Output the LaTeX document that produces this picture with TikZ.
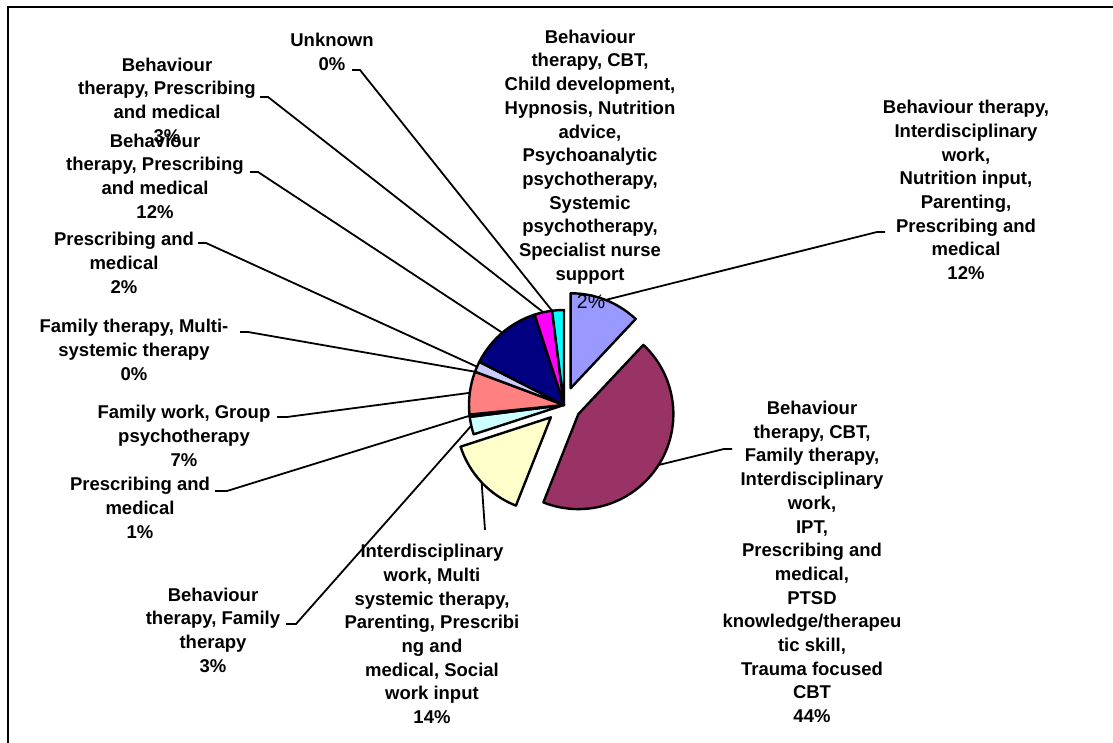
\documentclass[tikz,border=0pt]{standalone}
\usepackage{fontspec}
\setmainfont{Liberation Sans}
\usepackage{xcolor}
\usetikzlibrary{calc}

\definecolor{pielav}{HTML}{9999FF}
\definecolor{piemaroon}{HTML}{993366}
\definecolor{pieyellow}{HTML}{FFFFCC}
\definecolor{pielcyan}{HTML}{CCFFFF}
\definecolor{piepurple}{HTML}{660066}
\definecolor{piesalmon}{HTML}{FF8080}
\definecolor{piepale}{HTML}{CCCCFF}
\definecolor{pienavy}{HTML}{000080}
\definecolor{piemagenta}{HTML}{FF00FF}
\definecolor{piecyan}{HTML}{00FFFF}

\begin{document}
\begin{tikzpicture}[
    x=1pt, y=1pt,
    slice/.style={draw=black, line width=2.4pt, line join=round},
    leader/.style={line width=1.8pt},
    lbl/.style={align=center, inner sep=0pt,
      font=\fontsize{18.5}{23.7}\selectfont\bfseries},
    pct/.style={inner sep=0pt, font=\fontsize{19.5}{22}\selectfont}
]
\useasboundingbox (0,0) rectangle (1113,743);

% Frame
\draw[line width=2pt] (8,0) -- (8,736) -- (1113,736);

% Pie centre and exploded tips
\coordinate (c) at (564,338);
\coordinate (tlav) at ($(c)+(68.4:18)$);
\coordinate (tmaroon) at ($(c)+(-32.4:17)$);
\coordinate (tyellow) at ($(c)+(-136.8:18)$);

% Slices
\draw[slice, fill=pielav] (tlav) -- ++(90:95) arc[start angle=90, end angle=46.8, radius=95] -- cycle;
\draw[slice, fill=piemaroon] (tmaroon) -- ++(46.8:95) arc[start angle=46.8, end angle=-111.6, radius=95] -- cycle;
\draw[slice, fill=pieyellow] (tyellow) -- ++(-111.6:95) arc[start angle=-111.6, end angle=-162, radius=95] -- cycle;
\draw[slice, fill=pielcyan] (c) -- ++(187.2:95) arc[start angle=187.2, end angle=198, radius=95] -- cycle;
\draw[slice, fill=piepurple] (c) -- ++(185.8:95) arc[start angle=185.8, end angle=187.2, radius=95] -- cycle;
\draw[slice, fill=piesalmon] (c) -- ++(159.5:95) arc[start angle=159.5, end angle=185.8, radius=95] -- cycle;
\draw[slice, fill=piepale] (c) -- ++(153:95) arc[start angle=153, end angle=159.5, radius=95] -- cycle;
\draw[slice, fill=pienavy] (c) -- ++(108:95) arc[start angle=108, end angle=153, radius=95] -- cycle;
\draw[slice, fill=piemagenta] (c) -- ++(97.2:95) arc[start angle=97.2, end angle=108, radius=95] -- cycle;
\draw[slice, fill=piecyan] (c) -- ++(90:95) arc[start angle=90, end angle=97.2, radius=95] -- cycle;

% Leader anchors on the slices
\coordinate (mlav) at ($(tlav)+(68.4:95)$);
\coordinate (mmaroon) at ($(tmaroon)+(-32.4:95)$);
\coordinate (myellow) at ($(tyellow)+(-136.8:95)$);
\coordinate (mlcyan) at ($(c)+(192.6:95)$);
\coordinate (mpurple) at ($(c)+(186.5:95)$);
\coordinate (msalmon) at ($(c)+(172.65:95)$);
\coordinate (mzero) at ($(c)+(159.5:95)$);
\coordinate (mpale) at ($(c)+(156.25:95)$);
\coordinate (mnavy) at ($(c)+(130.5:95)$);
\coordinate (mmagenta) at ($(c)+(102.6:95)$);
\coordinate (munknown) at ($(c)+(97.2:95)$);

% Labels
\node[lbl] (lunknown) at (332,691) {Unknown\\0\%};
\node[lbl] (lbpm3) at (167,643) {Behaviour\\therapy, Prescribing\\and medical\\3\%};
\node[lbl] (lbpm12) at (155,567) {Behaviour\\therapy, Prescribing\\and medical\\12\%};
\node[lbl] (lpm2) at (124,480) {Prescribing and\\medical\\2\%};
\node[lbl] (lftmst) at (134,393) {Family therapy, Multi-\\systemic therapy\\0\%};
\node[lbl] (lfwgp) at (184,307) {Family work, Group\\psychotherapy\\7\%};
\node[lbl] (lpm1) at (140,235) {Prescribing and\\medical\\1\%};
\node[lbl] (lbtft) at (213,113) {Behaviour\\therapy, Family\\therapy\\3\%};
\node[lbl] (lyellow) at (432,109) {Interdisciplinary\\work, Multi\\systemic therapy,\\Parenting, Prescribi\\ng and\\medical, Social\\work input\\14\%};
\node[lbl] (lmaroon) at (812,181) {Behaviour\\therapy, CBT,\\Family therapy,\\Interdisciplinary\\work,\\IPT,\\Prescribing and\\medical,\\PTSD\\knowledge/therapeu\\tic skill,\\Trauma focused\\CBT\\44\%};
\node[lbl] (llav) at (966,553) {Behaviour therapy,\\Interdisciplinary\\work,\\Nutrition input,\\Parenting,\\Prescribing and\\medical\\12\%};
\node[lbl] (lcyan) at (590,586) {Behaviour\\therapy, CBT,\\Child development,\\Hypnosis, Nutrition\\advice,\\Psychoanalytic\\psychotherapy,\\Systemic\\psychotherapy,\\Specialist nurse\\support};
\node[pct] (pcyan) at (591,441) {2\%};

% Leader ends at the labels
\coordinate (kunknown) at (360,673);
\coordinate (kbpm3) at (268,646);
\coordinate (kbpm12) at (258,571);
\coordinate (kpm2) at (206,500);
\coordinate (kftmst) at (248,411);
\coordinate (kfwgp) at (287,326);
\coordinate (kpm1) at (227,252);
\coordinate (kbtft) at (296,119);
\coordinate (kyellow) at (485,213);
\coordinate (kmaroon) at (724,294);
\coordinate (klav) at (877,511);

% Leaders
\draw[leader] (munknown) -- (kunknown) -- ++(-8,0);
\draw[leader] (mmagenta) -- (kbpm3) -- ++(-8,0);
\draw[leader] (mnavy) -- (kbpm12) -- ++(-8,0);
\draw[leader] (mpale) -- (kpm2) -- ++(-8,0);
\draw[leader] (mzero) -- (kftmst) -- ++(-8,0);
\draw[leader] (msalmon) -- (kfwgp) -- ++(-10,0);
\draw[leader] (mpurple) -- (kpm1) -- ++(-12,0);
\draw[leader] (mlcyan) -- (kbtft) -- ++(-10,0);
\draw[leader] (myellow) -- (kyellow);
\draw[leader] (mmaroon) -- (kmaroon) -- ++(8,0);
\draw[leader] (mlav) -- (klav) -- ++(8,0);

\end{tikzpicture}
\end{document}
